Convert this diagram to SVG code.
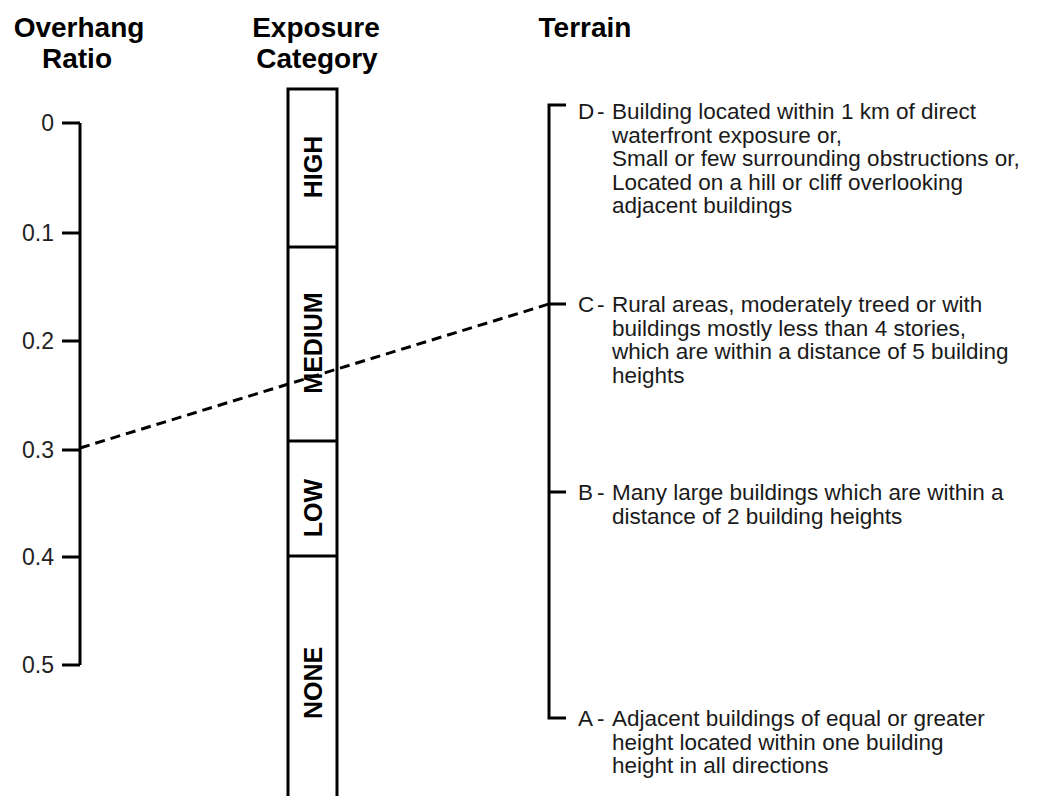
<svg xmlns="http://www.w3.org/2000/svg" width="1050" height="796" viewBox="0 0 1050 796">
<style>
.h{font-family:"Liberation Sans",Arial,sans-serif;font-weight:bold;font-size:28px;fill:#000;text-anchor:middle}
.tk{font-family:"Liberation Sans",Arial,sans-serif;font-size:23px;fill:#222;text-anchor:end}
.cat{font-family:"Liberation Sans",Arial,sans-serif;font-weight:bold;font-size:25px;fill:#000;text-anchor:middle}
.t{font-family:"Liberation Sans",Arial,sans-serif;font-size:22.5px;fill:#1a1a1a}
.ln{stroke:#000;stroke-width:3;fill:none}
</style>
<rect width="1050" height="796" fill="#fff"/>
<g id="headings">
<text class="h" x="79" y="37">Overhang</text>
<text class="h" x="77" y="68">Ratio</text>
<text class="h" x="316" y="37">Exposure</text>
<text class="h" x="317" y="68">Category</text>
<text class="h" x="585" y="37">Terrain</text>
</g>
<g id="overhang-axis">
<path class="ln" d="M80,123 V665 M62,123 H80 M62,233 H80 M62,341 H80 M62,450 H80 M62,557 H80 M62,665 H80"/>
<text class="tk" x="54" y="131">0</text>
<text class="tk" x="54" y="241">0.1</text>
<text class="tk" x="54" y="349">0.2</text>
<text class="tk" x="54" y="458">0.3</text>
<text class="tk" x="54" y="565">0.4</text>
<text class="tk" x="54" y="673">0.5</text>
</g>
<g id="exposure-high">
<path class="ln" d="M288,800 V89 H337 V247 M288,247 H337"/>
<text class="cat" transform="translate(322,167) rotate(-90)">HIGH</text>
</g>
<g id="exposure-medium">
<path class="ln" d="M337,247 V441 M288,441 H337"/>
<text class="cat" transform="translate(322,343) rotate(-90)">MEDIUM</text>
</g>
<g id="exposure-low">
<path class="ln" d="M337,441 V556 M288,556 H337"/>
<text class="cat" transform="translate(322,508) rotate(-90)">LOW</text>
</g>
<g id="exposure-none">
<path class="ln" d="M337,556 V800"/>
<text class="cat" transform="translate(322,683) rotate(-90)">NONE</text>
</g>
<g id="terrain-axis">
<path class="ln" d="M566,105 H549 V718 H566 M549,304 H566 M549,492 H566"/>
</g>
<g id="terrain-d">
<text class="t" x="578" y="119">D<tspan x="597">-</tspan></text>
<text class="t" x="612" y="119">Building located within 1 km of direct</text>
<text class="t" x="612" y="142.5">waterfront exposure or,</text>
<text class="t" x="612" y="166">Small or few surrounding obstructions or,</text>
<text class="t" x="612" y="189.5">Located on a hill or cliff overlooking</text>
<text class="t" x="612" y="213">adjacent buildings</text>
</g>
<g id="terrain-c">
<text class="t" x="578" y="312">C<tspan x="597">-</tspan></text>
<text class="t" x="612" y="312">Rural areas, moderately treed or with</text>
<text class="t" x="612" y="335.5">buildings mostly less than 4 stories,</text>
<text class="t" x="612" y="359">which are within a distance of 5 building</text>
<text class="t" x="612" y="382.5">heights</text>
</g>
<g id="terrain-b">
<text class="t" x="578" y="500">B<tspan x="597">-</tspan></text>
<text class="t" x="612" y="500">Many large buildings which are within a</text>
<text class="t" x="612" y="523.5">distance of 2 building heights</text>
</g>
<g id="terrain-a">
<text class="t" x="578" y="726">A<tspan x="597">-</tspan></text>
<text class="t" x="612" y="726">Adjacent buildings of equal or greater</text>
<text class="t" x="612" y="749.5">height located within one building</text>
<text class="t" x="612" y="773">height in all directions</text>
</g>
<g id="connectors">
<line x1="80" y1="448" x2="549" y2="304" stroke="#000" stroke-width="3" stroke-dasharray="10,6"/>
</g>
</svg>
